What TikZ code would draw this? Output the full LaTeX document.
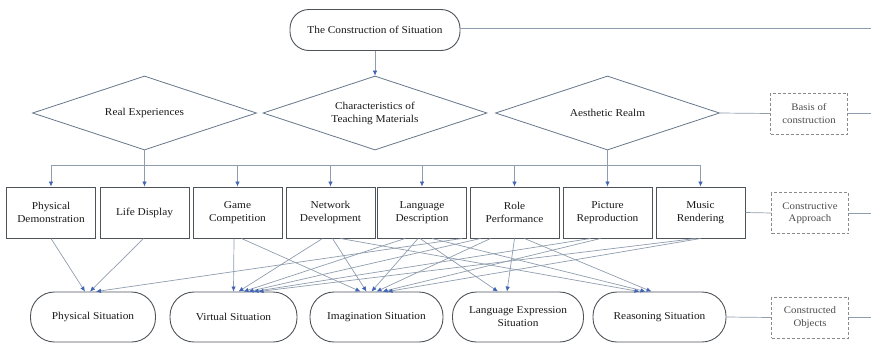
\documentclass[tikz,border=0pt]{standalone}
\usepackage{fontspec}
\setmainfont{Liberation Serif}[FakeStretch=1.08]
\usetikzlibrary{shapes.geometric,arrows.meta,calc}
\definecolor{edgegray}{HTML}{4E535A}
\definecolor{diagray}{HTML}{66778A}
\definecolor{linecol}{HTML}{8F9DAE}
\definecolor{tipblue}{HTML}{3F63B5}
\definecolor{dashgray}{HTML}{8A8A8A}
\begin{document}
\begin{tikzpicture}[x=1pt,y=-1pt,
  every node/.style={font=\fontsize{10.5}{13}\selectfont, text=black!90, align=center},
  stadium/.style={draw=edgegray, line width=0.9pt, rounded corners=24pt, minimum height=50pt, inner sep=2pt},
  dia/.style={draw=diagray, line width=0.8pt, diamond, aspect=3, inner sep=0pt, minimum width=224pt, minimum height=74pt},
  abox/.style={draw=edgegray, line width=1pt, minimum width=89pt, minimum height=51pt, inner sep=1pt},
  side/.style={draw=dashgray, densely dashed, line width=0.5pt, minimum width=77pt, minimum height=41pt, text=black!70, font=\fontsize{10}{12.5}\selectfont},
  conn/.style={draw=linecol, line width=0.7pt},
  arr/.style={conn, -{Latex[length=5pt,width=4.5pt,color=tipblue]}}
]
\useasboundingbox (0,0) rectangle (871,346);

% top
\node[stadium, minimum width=170pt, minimum height=41pt, rounded corners=19pt] (top) at (375,30) {The Construction of Situation};

% diamonds
\node[dia] (d1) at (144.5,113) {Real Experiences};
\node[dia] (d2) at (375,113) {Characteristics of\\Teaching Materials};
\node[dia] (d3) at (607.5,113) {Aesthetic Realm};

% approaches
\foreach \n/\x/\t in {pd/51/{Physical\\Demonstration}, ld/144.5/{Life Display}, gc/237.5/{Game\\Competition}, nd/330.5/{Network\\Development}, lg/422/{Language\\Description}, rp/514.5/{Role\\Performance}, pr/607.5/{Picture\\Reproduction}, mr/700.5/{Music\\Rendering}}
  \node[abox] (\n) at (\x,212.5) {\t};

% situations
\node[stadium, minimum width=125pt] (ps) at (93,317) {Physical Situation};
\node[stadium, minimum width=127pt] (vs) at (233.5,317) {Virtual Situation};
\node[stadium, minimum width=133pt] (is) at (376.5,317) {Imagination Situation};
\node[stadium, minimum width=131pt] (ls) at (518,317) {Language Expression\\Situation};
\node[stadium, minimum width=133pt] (rs) at (659.5,317) {Reasoning Situation};

% side boxes
\node[side] (b1) at (809,113.5) {Basis of\\construction};
\node[side] (b2) at (810,213) {Constructive\\Approach};
\node[side] (b3) at (810,317.5) {Constructed\\Objects};

\coordinate (e0) at (871,28);
\coordinate (e1) at (871,113.5);
\coordinate (e2) at (871,213);
\coordinate (e3) at (871,317.5);
\coordinate (bus) at (0,165);

% right side lines
\draw[conn] (top.east |- e0) -- (e0);
\draw[conn] (d3.east) -- (b1.west);
\draw[conn] (b1.east) -- (e1);
\draw[conn] (mr.east) -- (b2.west);
\draw[conn] (b2.east) -- (e2);
\draw[conn] (rs.east) -- (b3.west);
\draw[conn] (b3.east) -- (e3);

% top to diamond
\draw[arr] (top.south) -- (d2.north);

% bus
\draw[conn] (d1.south) -- (d1.south |- bus);
\draw[conn] (d3.south) -- (d3.south |- bus);
\draw[conn] (pd.north |- bus) -- (mr.north |- bus);
\foreach \n in {pd,ld,gc,nd,lg,rp,pr,mr}
  \draw[arr] (\n.north |- bus) -- (\n.north);

% approaches to situations
\foreach \s/\sx/\t/\tx in {
  pd/0/ps/-8, ld/-1/ps/-3, lg/40/ps/3,
  gc/-3.5/vs/0, nd/-8/vs/5, lg/-17/vs/10, rp/-34/vs/15, pr/-17/vs/20, mr/-5/vs/25,
  gc/4/is/-16, nd/2/is/-10, lg/-4/is/-5, rp/-24/is/0, pr/-7/is/6, mr/0/is/11,
  lg/-2/ls/-20, rp/0/ls/-11,
  nd/10/rs/-20, lg/10/rs/-14, rp/10/rs/-8}
  \draw[arr] ($(\s.south)+(\sx,0)$) -- ($(\t.north)+(\tx,0)$);
\end{tikzpicture}
\end{document}
